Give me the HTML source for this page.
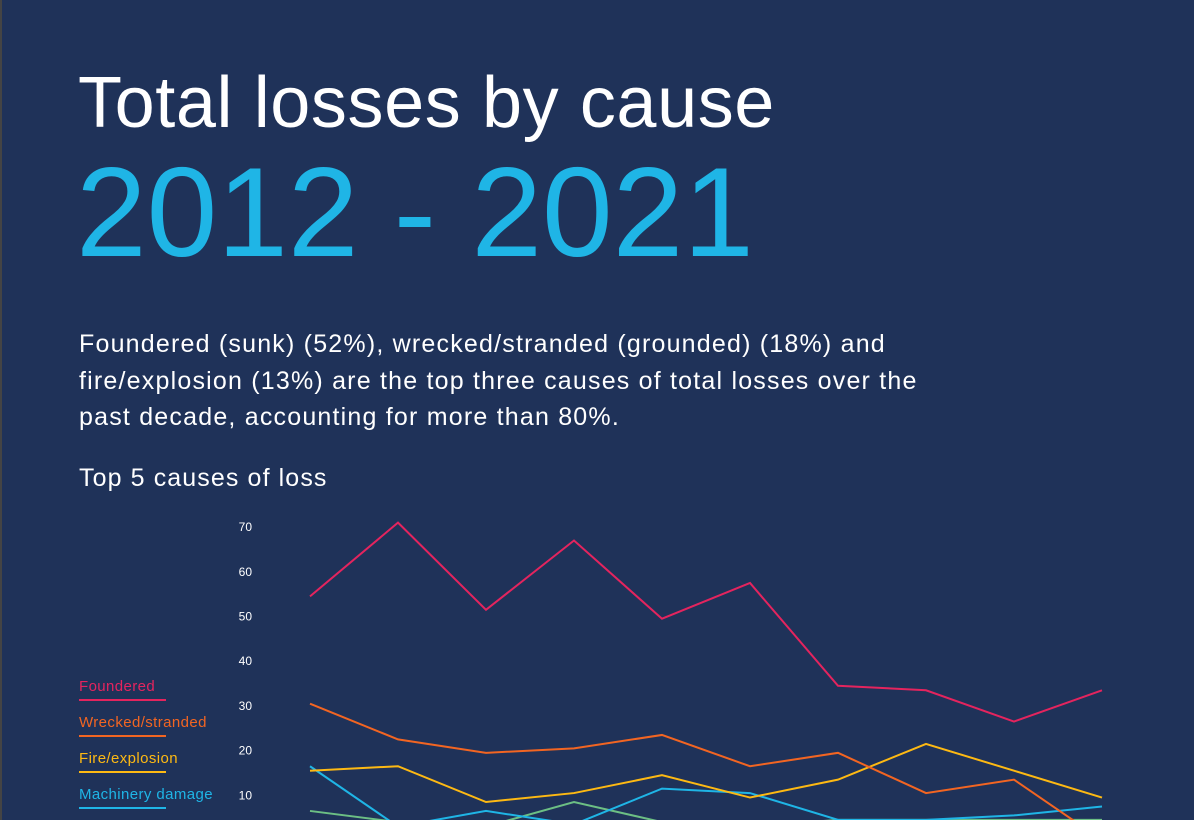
<!DOCTYPE html>
<html><head><meta charset="utf-8">
<style>
html,body{margin:0;padding:0}
body{width:1194px;height:820px;overflow:hidden;background:#1f3259;position:relative;font-family:"Liberation Sans",sans-serif;color:#fff}
.edge{position:absolute;left:0;top:0;width:2px;height:820px;background:#444}
.t{position:absolute;white-space:nowrap}
#title{left:78px;top:58px;font-size:72px;line-height:90px;letter-spacing:0.6px}
#years{left:76px;top:142px;font-size:127px;line-height:140px;color:#1fb5e6}
#desc{left:79px;top:326px;font-size:25px;line-height:36.5px;letter-spacing:1.2px}
#sub{left:79px;top:462px;font-size:25px;line-height:32px;letter-spacing:1.1px}
.leg{position:absolute;left:79px;font-size:15px;white-space:nowrap;letter-spacing:0.4px}
.leg span{display:block;width:87px;height:2px;margin-top:4px}
svg{position:absolute;left:0;top:0}
</style></head><body>
<div class="edge"></div>
<div class="t" id="title">Total losses by cause</div>
<div class="t" id="years">2012 - 2021</div>
<div class="t" id="desc">Foundered (sunk) (52%), wrecked/stranded (grounded) (18%) and<br>fire/explosion (13%) are the top three causes of total losses over the<br>past decade, accounting for more than 80%.</div>
<div class="t" id="sub">Top 5 causes of loss</div>
<div class="leg" style="top:678px;color:#e4245e">Foundered<span style="background:#e4245e"></span></div>
<div class="leg" style="top:714px;color:#f26522">Wrecked/stranded<span style="background:#f26522"></span></div>
<div class="leg" style="top:750px;color:#fdb913">Fire/explosion<span style="background:#fdb913"></span></div>
<div class="leg" style="top:786px;color:#1fb5e6">Machinery damage<span style="background:#1fb5e6"></span></div>
<svg id="chart" width="1194" height="820"></svg>
<script>
const years=[2012,2013,2014,2015,2016,2017,2018,2019,2020,2021];
const yTicks=[10,20,30,40,50,60,70];
const foundered=[54.5,71,51.5,67,49.5,57.5,34.5,33.5,26.5,33.5];
const wrecked=[30.5,22.5,19.5,20.5,23.5,16.5,19.5,10.5,13.5,0];
const fire=[15.5,16.5,8.5,10.5,14.5,9.5,13.5,21.5,15.5,9.5];
const machinery=[16.5,3,6.5,3.5,11.5,10.5,4.5,4.5,5.5,7.5];
const collision=[6.5,4,3,8.5,4,3,4.5,4.5,4.5,4.5];
const NS='http://www.w3.org/2000/svg';
const svg=document.getElementById('chart');
function x(i){return 310+i*88;}
function y(v){return 840-v*4.47;}
yTicks.forEach(v=>{
  const t=document.createElementNS(NS,'text');
  
  
  t.setAttribute('x',252);t.setAttribute('y',y(v)+4);
  t.setAttribute('text-anchor','end');t.setAttribute('fill','#fff');
  t.setAttribute('font-size','12');t.setAttribute('font-family','Liberation Sans, sans-serif');
  t.textContent=v;svg.appendChild(t);
});
const series=[[collision,'#6cbf84','collision'],[machinery,'#1fb5e6','machinery'],[fire,'#fdb913','fire'],[wrecked,'#f26522','wrecked'],[foundered,'#e4245e','foundered']];
series.forEach(([d,c,n])=>{
  const p=document.createElementNS(NS,'polyline');
  
  
  p.setAttribute('points',d.map((v,i)=>x(i)+','+y(v)).join(' '));
  p.setAttribute('fill','none');p.setAttribute('stroke',c);p.setAttribute('stroke-width','2');
  svg.appendChild(p);
});
</script>
</body></html>
